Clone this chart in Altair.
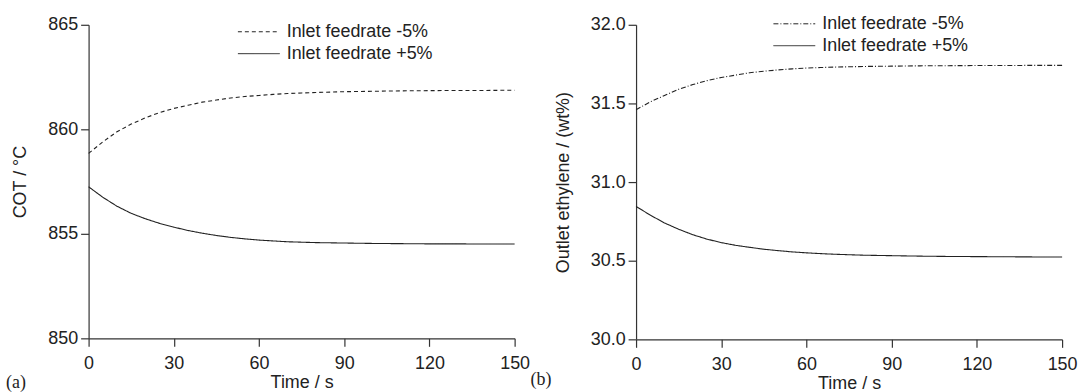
import altair as alt
import pandas as pd

# ---- data ----
time_s = [0, 5, 10, 15, 20, 25, 30, 35, 40, 45, 50, 55, 60, 65, 70, 75, 80,
          90, 100, 110, 120, 130, 140, 150]

cot_minus5 = [858.85, 859.40, 859.88, 860.25, 860.55, 860.80, 861.00, 861.15,
              861.30, 861.40, 861.50, 861.57, 861.62, 861.67, 861.71, 861.74,
              861.76, 861.80, 861.82, 861.84, 861.85, 861.86, 861.86, 861.87]
cot_plus5 = [857.25, 856.75, 856.32, 855.98, 855.72, 855.50, 855.32, 855.16,
             855.03, 854.92, 854.83, 854.76, 854.70, 854.66, 854.62, 854.60,
             854.58, 854.56, 854.54, 854.53, 854.52, 854.52, 854.51, 854.51]

eth_minus5 = [31.460, 31.510, 31.550, 31.590, 31.620, 31.645, 31.665, 31.680,
              31.695, 31.705, 31.713, 31.720, 31.725, 31.728, 31.731, 31.733,
              31.735, 31.737, 31.739, 31.740, 31.741, 31.741, 31.742, 31.742]
eth_plus5 = [30.845, 30.790, 30.740, 30.700, 30.665, 30.637, 30.615, 30.598,
             30.585, 30.573, 30.564, 30.556, 30.550, 30.545, 30.541, 30.538,
             30.535, 30.532, 30.529, 30.527, 30.526, 30.525, 30.524, 30.524]

series_names = ["Inlet feedrate -5%", "Inlet feedrate +5%"]
x_ticks = [0, 30, 60, 90, 120, 150]
cot_ticks = [850, 855, 860, 865]
eth_ticks = [30.0, 30.5, 31.0, 31.5, 32.0]

FONT = "Liberation Sans"
INK = "#222222"


def make_df(minus, plus):
    rows = []
    for t, v in zip(time_s, minus):
        rows.append({"t": t, "v": v, "series": series_names[0]})
    for t, v in zip(time_s, plus):
        rows.append({"t": t, "v": v, "series": series_names[1]})
    return pd.DataFrame(rows)


def panel(minus, plus, ydomain, yticks, yfmt, ytitle, dashes, tag,
          leg_x, leg_y, tag_x, tag_y, height, title_pad):
    df = make_df(minus, plus)
    lines = alt.Chart(df).mark_line(strokeWidth=1.1, color=INK).encode(
        x=alt.X("t:Q", scale=alt.Scale(domain=[0, 150], nice=False),
                axis=alt.Axis(values=x_ticks, title="Time / s", labelFlush=False,
                              labelPadding=8, titlePadding=1)),
        y=alt.Y("v:Q", scale=alt.Scale(domain=ydomain, nice=False, zero=False),
                axis=alt.Axis(values=yticks, format=yfmt, title=ytitle,
                              titlePadding=title_pad, labelFlush=False)),
        strokeDash=alt.StrokeDash(
            "series:N",
            scale=alt.Scale(domain=series_names, range=dashes),
            legend=alt.Legend(orient="none", legendX=leg_x, legendY=leg_y,
                              title=None, symbolType="M-1,0H5", symbolSize=196,
                              symbolStrokeWidth=1, symbolStrokeColor=INK,
                              labelFont=FONT, labelFontSize=18, labelColor=INK,
                              labelOffset=33, rowPadding=4, padding=0),
        ),
        order=alt.Order("t:Q"),
    )
    label = alt.Chart(pd.DataFrame({"tag": [tag]})).mark_text(
        font="Liberation Serif", fontSize=18, align="left", baseline="middle",
        color=INK,
    ).encode(x=alt.value(tag_x), y=alt.value(tag_y), text="tag:N")
    return alt.layer(lines, label).properties(width=428, height=height)


left = panel(cot_minus5, cot_plus5, [850, 865], cot_ticks, "d", "COT / °C",
             [[4, 3], [1, 0]], "(a)", 148, -2, -83, 360, 315, 18)
right = panel(eth_minus5, eth_plus5, [30.0, 32.0], eth_ticks, ".1f",
              "Outlet ethylene / (wt%)", [[5, 2, 1, 2], [1, 0]], "(b)",
              136, -10, -106, 357, 316, 18)

chart = alt.hconcat(left, right, spacing=122, bounds="flush").resolve_scale(
    strokeDash="independent", x="independent", y="independent"
).resolve_legend(strokeDash="independent").properties(
    padding={"left": 6, "top": 14, "right": 5, "bottom": 0}
).configure_view(stroke=None).configure_axis(
    grid=False, labelFont=FONT, labelFontSize=18, labelColor=INK,
    titleFont=FONT, titleFontSize=18, titleFontWeight="normal", titleColor=INK,
    tickSize=8, tickColor="#333333", domainColor="#333333", domainWidth=1.2,
    tickWidth=1.2, labelPadding=3,
)

chart.save("out.html", embed_options={"renderer": "svg", "actions": False})
